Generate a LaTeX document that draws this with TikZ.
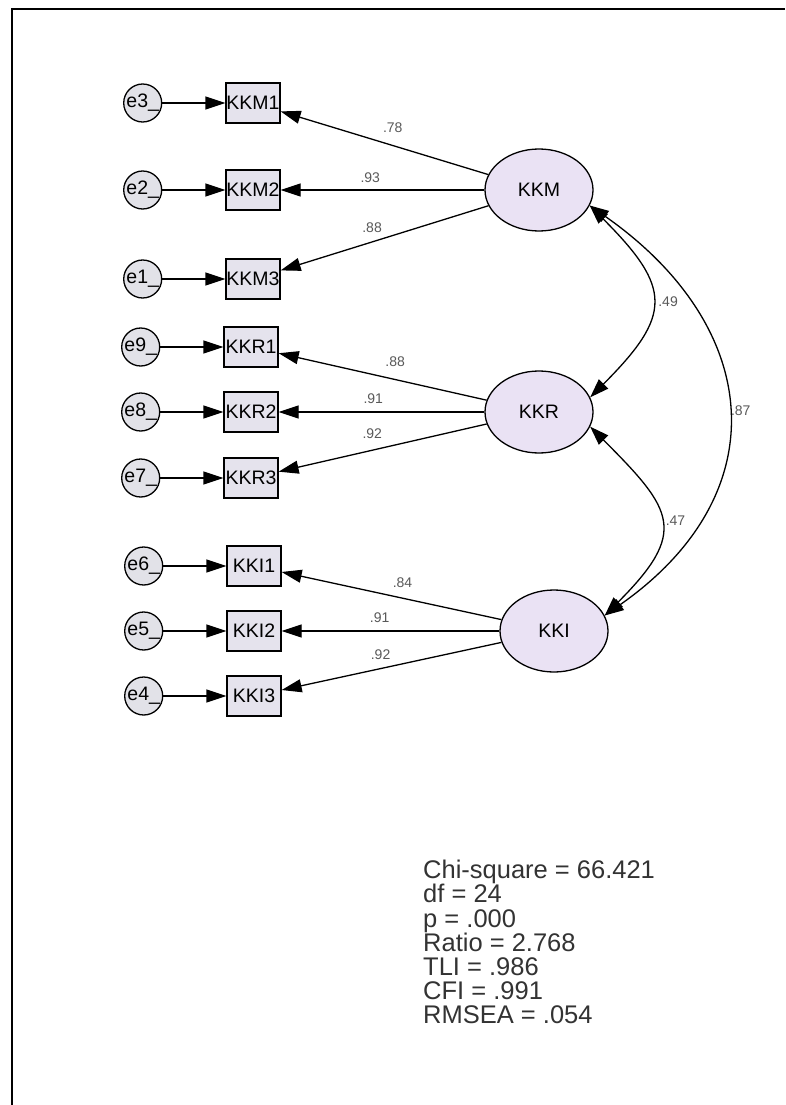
\documentclass[tikz,border=0pt]{standalone}
\usepackage{fontspec}
\setmainfont{Liberation Sans}
\usetikzlibrary{
  arrows.meta,
  positioning,
  shapes.geometric
}

\definecolor{latfill}{RGB}{234,226,244}
\definecolor{indfill}{RGB}{229,227,237}
\definecolor{errfill}{RGB}{226,226,232}

\begin{document}
\begin{tikzpicture}[
  x=1pt,
  y=1pt,
  font=\fontsize{19.5}{22}\selectfont,
  node distance=63pt,
  latent/.style={
    draw,
    ellipse,
    line width=1.3pt,
    minimum width=108pt,
    minimum height=82pt,
    inner sep=0pt,
    fill=latfill
  },
  indic/.style={
    draw,
    rectangle,
    line width=1.3pt,
    minimum width=54pt,
    minimum height=40pt,
    inner sep=0pt,
    fill=indfill
  },
  err/.style={
    draw,
    circle,
    line width=1.3pt,
    minimum size=38pt,
    inner sep=0pt,
    fill=errfill
  },
  load/.style={
    -{Triangle[length=20pt,width=13pt]},
    line width=1.3pt
  },
  corr/.style={
    {Triangle[length=19pt,width=13pt]}-{Triangle[length=19pt,width=13pt]},
    line width=1.3pt
  },
  lbl/.style={
    font=\fontsize{14}{15}\selectfont,
    text=black!65,
    inner sep=1pt
  },
  stats/.style={
    align=left,
    inner sep=0pt,
    text=black!80,
    font=\fontsize{25.5}{24.2}\selectfont
  }
]

\useasboundingbox (0,0) rectangle (785,-1105);
\fill[white] (0,0) rectangle (785,-1105);
\draw[line width=2pt] (12,-1105) -- (12,-9) -- (785,-9);

% --- latent factors ---
\node[latent] (KKM) at (539,-190) {KKM};
\node[latent] (KKR) at (539,-412) {KKR};
\node[latent] (KKI) at (554,-631) {KKI};

% --- indicators ---
\node[indic] (KKM1) at (253,-103) {KKM1};
\node[indic] (KKM2) at (253,-190) {KKM2};
\node[indic] (KKM3) at (253,-279) {KKM3};
\node[indic] (KKR1) at (251,-347) {KKR1};
\node[indic] (KKR2) at (251,-412) {KKR2};
\node[indic] (KKR3) at (251,-478) {KKR3};
\node[indic] (KKI1) at (254,-566) {KKI1};
\node[indic] (KKI2) at (254,-631) {KKI2};
\node[indic] (KKI3) at (254,-696) {KKI3};

% --- error terms ---
\node[err,left=of KKM1] (e3) {e3\_};
\node[err,left=of KKM2] (e2) {e2\_};
\node[err,left=of KKM3] (e1) {e1\_};
\node[err,left=of KKR1] (e9) {e9\_};
\node[err,left=of KKR2] (e8) {e8\_};
\node[err,left=of KKR3] (e7) {e7\_};
\node[err,left=of KKI1] (e6) {e6\_};
\node[err,left=of KKI2] (e5) {e5\_};
\node[err,left=of KKI3] (e4) {e4\_};

\draw[load] (e3) -- (KKM1);
\draw[load] (e2) -- (KKM2);
\draw[load] (e1) -- (KKM3);
\draw[load] (e9) -- (KKR1);
\draw[load] (e8) -- (KKR2);
\draw[load] (e7) -- (KKR3);
\draw[load] (e6) -- (KKI1);
\draw[load] (e5) -- (KKI2);
\draw[load] (e4) -- (KKI3);

% --- factor loadings ---
\draw[load] (KKM) -- node[lbl,pos=0.46,above=11pt]{.78} (KKM1);
\draw[load] (KKM) -- node[lbl,pos=0.56,above=6pt]{.93} (KKM2);
\draw[load] (KKM) -- node[lbl,pos=0.56,above=8pt]{.88} (KKM3);
\draw[load] (KKR) -- node[lbl,pos=0.44,above=11pt]{.88} (KKR1);
\draw[load] (KKR) -- node[lbl,pos=0.54,above=7pt]{.91} (KKR2);
\draw[load] (KKR) -- node[lbl,pos=0.55,above=10pt]{.92} (KKR3);
\draw[load] (KKI) -- node[lbl,pos=0.45,above=9pt]{.84} (KKI1);
\draw[load] (KKI) -- node[lbl,pos=0.55,above=7pt]{.91} (KKI2);
\draw[load] (KKI) -- node[lbl,pos=0.55,above=7pt]{.92} (KKI3);

% --- factor correlations ---
\draw[corr] (KKM.-17) to[out=-45,in=45,looseness=1.55]
  node[lbl,right=5pt]{.49} (KKR.16);
\draw[corr] (KKR.-16) to[out=-45,in=45,looseness=1.6]
  node[lbl,right=4pt]{.47} (KKI.17);
\draw[corr] (KKM.-17) to[out=-35,in=35,looseness=1.32]
  node[lbl,right=2pt]{.87} (KKI.17);

% fit indices
\node[stats,anchor=north west] (fit) at (423,-860)
  {Chi-square = 66.421\\df = 24\\p = .000\\Ratio = 2.768\\TLI = .986\\CFI = .991\\RMSEA = .054};

\end{tikzpicture}
\end{document}
